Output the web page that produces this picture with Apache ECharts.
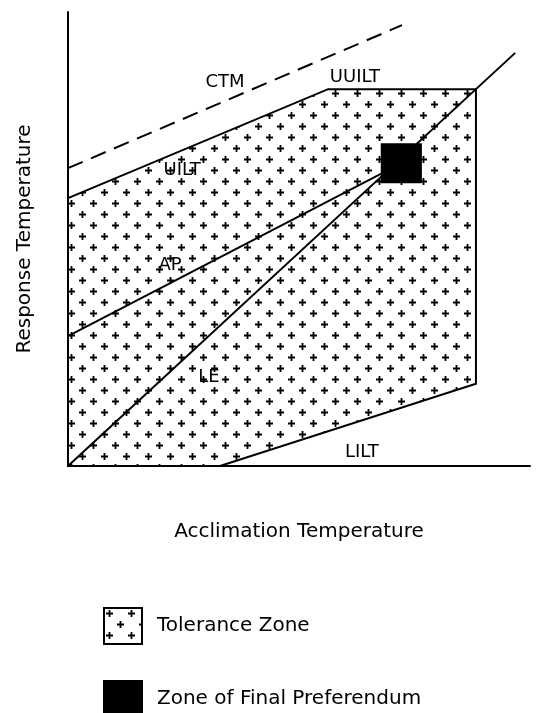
<!DOCTYPE html>
<html>
<head>
<meta charset="utf-8">
<script src="https://cdn.jsdelivr.net/npm/echarts@6/dist/echarts.min.js"></script>
<style>
html,body{margin:0;padding:0;background:#fff;}
#chart{width:542px;height:713px;}
</style>
</head>
<body>
<div id="chart"></div>
<script>
// ---- data (arbitrary 0-100 units on both axes) ----
const toleranceX = [0, 0, 56.3, 88.3, 88.3, 32.9];
const toleranceY = [0, 59.0, 83.0, 83.0, 18.1, 0];
const ctmX = [0, 72.3];
const ctmY = [65.6, 97.1];
const apX = [0, 72.2];
const apY = [28.6, 66.7];
const leX = [0, 96.8];
const leY = [0, 91.0];
const prefX = [67.7, 76.6];
const prefY = [62.3, 71.1];
const labelNames = ['CTM', 'UUILT', 'UILT', 'AP', 'LE', 'LILT'];
const labelX = [34.0, 62.1, 24.7, 22.1, 30.5, 63.6];
const labelY = [84.4, 85.7, 65.2, 44.3, 19.6, 3.1];
const xTitle = 'Acclimation Temperature';
const yTitle = 'Response Temperature';
const legendNames = ['Tolerance Zone', 'Zone of Final Preferendum'];

// ---- plus-sign pattern ----
function makePattern() {
  const c = document.createElement('canvas');
  c.width = 22; c.height = 22;
  const g = c.getContext('2d');
  g.fillStyle = '#fff';
  g.fillRect(0, 0, 22, 22);
  g.strokeStyle = '#000';
  g.lineWidth = 1.8;
  [[5.5, 5.5], [16.5, 16.5]].forEach(([cx, cy]) => {
    g.beginPath();
    g.moveTo(cx - 3.5, cy); g.lineTo(cx + 3.5, cy);
    g.moveTo(cx, cy - 3.5); g.lineTo(cx, cy + 3.5);
    g.stroke();
  });
  return c;
}
const pattern = { image: makePattern(), repeat: 'repeat' };

const zip = (xs, ys) => xs.map((x, i) => [x, ys[i]]);
const FONT = 'DejaVu Sans';

const legendBase = {
  orient: 'vertical', left: 98,
  itemWidth: 38, itemHeight: 36,
  selectedMode: false,
  textStyle: { fontFamily: FONT, fontSize: 20, color: '#000', padding: [0, 0, 0, 10] }
};

const chart = echarts.init(document.getElementById('chart'), null, { renderer: 'canvas' });

chart.setOption({
  animation: false,
  backgroundColor: '#fff',
  grid: { left: 68, right: 12, top: 12, bottom: 247 },
  xAxis: {
    type: 'value', min: 0, max: 100,
    name: xTitle, nameLocation: 'middle', nameGap: 56,
    nameTextStyle: { fontFamily: FONT, fontSize: 20, color: '#000' },
    axisLine: { show: true, onZero: false, lineStyle: { color: '#000', width: 2 } },
    axisTick: { show: false }, axisLabel: { show: false }, splitLine: { show: false }
  },
  yAxis: {
    type: 'value', min: 0, max: 100,
    name: yTitle, nameLocation: 'middle', nameGap: 33,
    nameTextStyle: { fontFamily: FONT, fontSize: 20, color: '#000' },
    axisLine: { show: true, onZero: false, lineStyle: { color: '#000', width: 2 } },
    axisTick: { show: false }, axisLabel: { show: false }, splitLine: { show: false }
  },
  legend: [
    Object.assign({}, legendBase, {
      top: 602,
      data: [{ name: legendNames[0], icon: 'rect', itemStyle: { color: pattern, borderColor: '#000', borderWidth: 2 } }]
    }),
    Object.assign({}, legendBase, {
      top: 675,
      data: [{ name: legendNames[1], icon: 'rect', itemStyle: { color: '#000', borderColor: '#000', borderWidth: 2 } }]
    })
  ],
  series: [
    {
      name: legendNames[0], type: 'custom', silent: true, z: 1,
      itemStyle: { color: pattern },
      data: [0],
      renderItem: function (params, api) {
        const pts = zip(toleranceX, toleranceY).map(p => api.coord(p));
        return {
          type: 'polygon',
          shape: { points: pts },
          style: { fill: pattern, stroke: '#000', lineWidth: 2 }
        };
      }
    },
    {
      name: 'CTM', type: 'line', data: zip(ctmX, ctmY), showSymbol: false, silent: true, z: 3,
      lineStyle: { color: '#000', width: 2, type: [16, 9] }
    },
    {
      name: 'AP', type: 'line', data: zip(apX, apY), showSymbol: false, silent: true, z: 3,
      lineStyle: { color: '#000', width: 2 }
    },
    {
      name: 'LE', type: 'line', data: zip(leX, leY), showSymbol: false, silent: true, z: 3,
      lineStyle: { color: '#000', width: 2 }
    },
    {
      name: legendNames[1], type: 'custom', silent: true, z: 4,
      itemStyle: { color: '#000' },
      data: [0],
      renderItem: function (params, api) {
        const a = api.coord([prefX[0], prefY[1]]);
        const b = api.coord([prefX[1], prefY[0]]);
        return {
          type: 'rect',
          shape: { x: a[0], y: a[1], width: b[0] - a[0], height: b[1] - a[1] },
          style: { fill: '#000' }
        };
      }
    },
    {
      name: 'labels', type: 'scatter', symbolSize: 1, silent: true, z: 5,
      itemStyle: { color: 'rgba(0,0,0,0)', opacity: 1 },
      data: labelNames.map((n, i) => ({ name: n, value: [labelX[i], labelY[i]] })),
      label: {
        show: true, position: 'inside', formatter: p => p.name,
        fontFamily: FONT, fontSize: 18, color: '#000', opacity: 1
      }
    }
  ]
});
</script>
</body>
</html>
